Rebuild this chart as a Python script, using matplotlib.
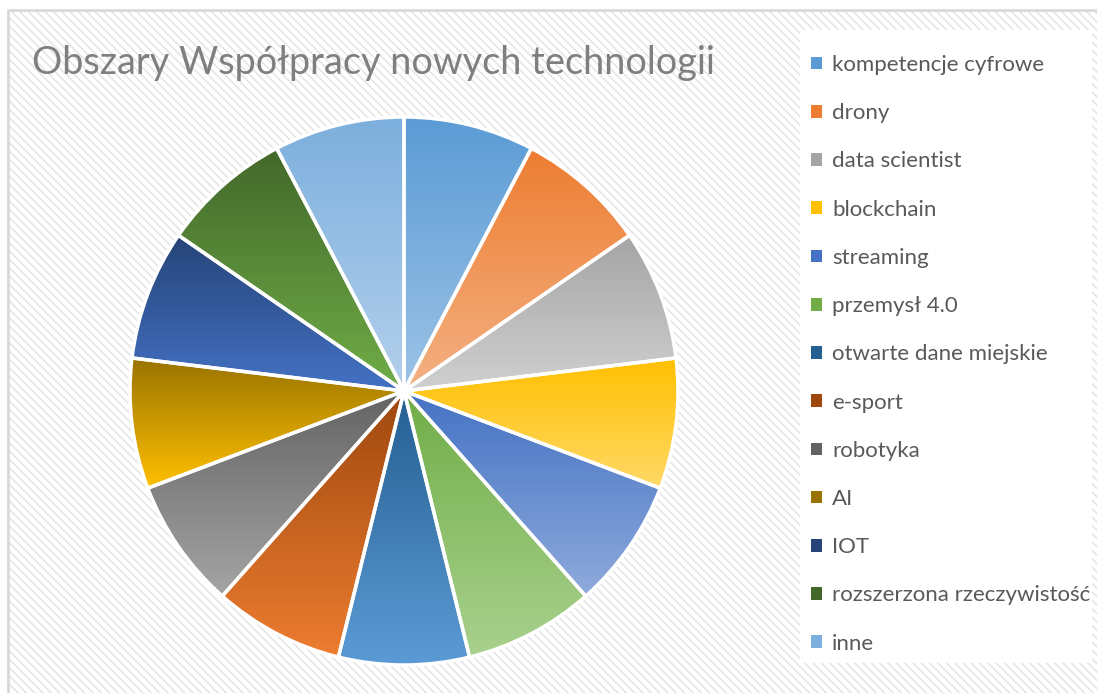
import numpy as np
import matplotlib.pyplot as plt
from matplotlib.colors import to_rgb
from matplotlib.patches import Rectangle, Patch

# data: 13 equal areas of cooperation
labels = ["kompetencje cyfrowe", "drony", "data scientist", "blockchain",
          "streaming", "przemysł 4.0", "otwarte dane miejskie", "e-sport",
          "robotyka", "AI", "IOT", "rozszerzona rzeczywistość", "inne"]
values = [1, 1, 1, 1, 1, 1, 1, 1, 1, 1, 1, 1, 1]

# gradient colours: top (darker) and bottom (lighter) of each slice
top_colors = ["#5b9bd5", "#ed7d31", "#a5a5a5", "#ffc000", "#4472c4", "#70ad47",
              "#255e91", "#9e480e", "#636363", "#997300", "#264478", "#43682b",
              "#7cafdd"]
bottom_colors = ["#9dc3e6", "#f4b183", "#d0d0d0", "#ffd966", "#8faadc", "#a9d18e",
                 "#5b9bd5", "#ed7d31", "#a5a5a5", "#ffc000", "#4472c4", "#70ad47",
                 "#b4d0ec"]

plt.rcParams['font.family'] = ['Lato', 'DejaVu Sans']
plt.rcParams['hatch.linewidth'] = 1.0

W, H = 1097, 693
fig = plt.figure(figsize=(W / 100, H / 100), dpi=100)
fig.patch.set_facecolor("white")

# hatched chart area with a thin grey border
bg = Rectangle((8 / W, -0.05), 1.1, 1 - 10 / H + 0.05, transform=fig.transFigure,
               facecolor="white", edgecolor="#e2e2e2", hatch="\\\\\\\\", linewidth=0,
               zorder=-3)
fig.patches.append(bg)
border = Rectangle((8 / W, -0.05), 1.1, 1 - 10 / H + 0.05, transform=fig.transFigure,
                   facecolor="none", edgecolor="#d9d9d9", linewidth=2, zorder=-2)
fig.patches.append(border)
# white legend panel
panel = Rectangle((800 / W, 1 - 663 / H), 292 / W, 633 / H, transform=fig.transFigure,
                  facecolor="white", edgecolor="none", zorder=-1)
fig.patches.append(panel)

# pie axes, centre at (404, 391) px, radius 274 px
half = 280
ax = fig.add_axes([(404 - half) / W, (H - 391 - half) / H, 2 * half / W, 2 * half / H])
ax.set_facecolor("none")
ax.axis("off")

wedges, _ = ax.pie(values, startangle=90, counterclock=False, radius=1,
                   colors=top_colors, wedgeprops=dict(linewidth=0))

n = 256
for w, c_top, c_bot in zip(wedges, top_colors, bottom_colors):
    verts = w.get_path().vertices
    x0, x1 = verts[:, 0].min(), verts[:, 0].max()
    y0, y1 = verts[:, 1].min(), verts[:, 1].max()
    t = np.linspace(0, 1, n)[:, None]
    grad = (1 - t) * np.array(to_rgb(c_bot)) + t * np.array(to_rgb(c_top))
    img = ax.imshow(grad[:, None, :], extent=[x0, x1, y0, y1], origin="lower",
                    aspect="auto", zorder=2, interpolation="bilinear")
    img.set_clip_path(w)

# white outlines on top
ax.pie(values, startangle=90, counterclock=False, radius=1,
       wedgeprops=dict(facecolor="none", edgecolor="white", linewidth=2.5))
for p in ax.patches[len(values):]:
    p.set_zorder(3)

lim = half / 274
ax.set_xlim(-lim, lim)
ax.set_ylim(-lim, lim)
ax.set_aspect("equal")

fig.text(32 / W, 1 - 63 / H, "Obszary Współpracy nowych technologii",
         fontsize=27.3, color="#7f7f7f", va="center", ha="left")

handles = [Patch(facecolor=c, edgecolor="none") for c in top_colors]
leg = fig.legend(handles, labels, loc="upper left", bbox_to_anchor=(811 / W, 1 - 55 / H),
                 frameon=False, fontsize=16, labelcolor="#595959",
                 handlelength=0.5, handleheight=0.5, handletextpad=0.45,
                 labelspacing=1.27, borderpad=0, borderaxespad=0)

fig.savefig("out.png", dpi=100)
